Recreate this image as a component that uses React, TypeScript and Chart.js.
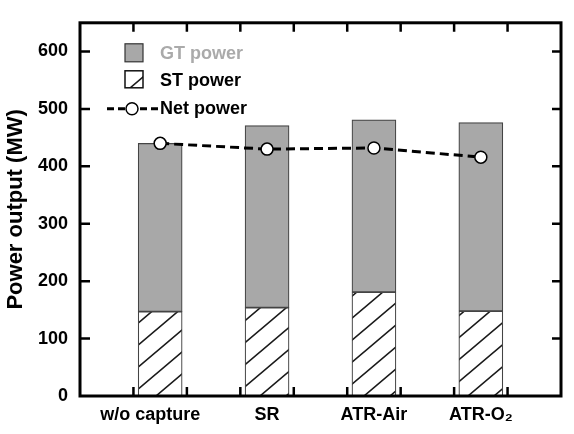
import React, { useEffect, useRef } from "react";
import { Chart, registerables } from "chart.js";

Chart.register(...registerables);

const categories = ["w/o capture", "SR", "ATR-Air", "ATR-O\u2082"];
const stPower = [147, 154, 181, 148];
const gtPower = [293, 317, 300, 328];
const netPower = [440, 430, 432, 416];
const yTickValues = [0, 100, 200, 300, 400, 500, 600];
const legendLabels = ["GT power", "ST power", "Net power"];

const FONT = "'Liberation Sans', Arial, sans-serif";

function makeHatch(): CanvasPattern | string {
  const w = 26, h = 22;
  const c = document.createElement("canvas");
  c.width = w; c.height = h;
  const g = c.getContext("2d");
  if (!g) return "#fff";
  g.fillStyle = "#ffffff";
  g.fillRect(0, 0, w, h);
  g.strokeStyle = "#1a1a1a";
  g.lineWidth = 1.6;
  g.beginPath();
  g.moveTo(-w, 2 * h); g.lineTo(2 * w, -h);
  g.moveTo(-2 * w, 2 * h); g.lineTo(w, -h);
  g.moveTo(0, 2 * h); g.lineTo(3 * w, -h);
  g.stroke();
  const p = g.createPattern(c, "repeat");
  return p || "#fff";
}

export default function App() {
  const ref = useRef<HTMLCanvasElement | null>(null);
  useEffect(() => {
    if (!ref.current) return;
    const hatch = makeHatch();

    const frame = {
      id: "frame",
      afterDatasetsDraw(chart: any) {
        const { ctx, chartArea } = chart;
        const { left, right, top, bottom } = chartArea;
        const xs = chart.scales.x;
        const ys = chart.scales.y;
        ctx.save();
        ctx.strokeStyle = "#000";
        ctx.lineWidth = 3;
        ctx.strokeRect(left, top, right - left, bottom - top);
        ctx.lineWidth = 2.5;
        ctx.beginPath();
        yTickValues.forEach((v) => {
          const y = ys.getPixelForValue(v);
          if (v === 0) return;
          ctx.moveTo(left, y); ctx.lineTo(left + 10, y);
          ctx.moveTo(right, y); ctx.lineTo(right - 9, y);
        });
        categories.forEach((_, i) => {
          [i - 0.25, i + 0.25].forEach((xv) => {
            const x = xs.getPixelForValue(xv);
            ctx.moveTo(x, bottom); ctx.lineTo(x, bottom - 9);
            ctx.moveTo(x, top); ctx.lineTo(x, top + 9);
          });
        });
        ctx.stroke();

        // legend
        const lx = left + 45;
        const ds = chart.data.datasets;
        ctx.font = `bold 18px ${FONT}`;
        ctx.textBaseline = "middle";
        ctx.textAlign = "left";
        // GT
        ctx.fillStyle = ds[1].backgroundColor;
        ctx.fillRect(lx, top + 21, 18, 18);
        ctx.lineWidth = 1.2;
        ctx.strokeStyle = "#333";
        ctx.strokeRect(lx, top + 21, 18, 18);
        ctx.fillStyle = "#aaaaaa";
        ctx.fillText(legendLabels[0], left + 80, top + 31);
        // ST
        ctx.fillStyle = ds[0].backgroundColor;
        ctx.fillRect(lx, top + 48, 18, 17);
        ctx.lineWidth = 1.5;
        ctx.strokeStyle = "#111";
        ctx.strokeRect(lx, top + 48, 18, 17);
        ctx.fillStyle = "#000";
        ctx.fillText(legendLabels[1], left + 80, top + 58);
        // Net
        const ny = top + 86;
        ctx.strokeStyle = "#000";
        ctx.lineWidth = 3;
        ctx.setLineDash([7, 4]);
        ctx.beginPath();
        ctx.moveTo(left + 27, ny); ctx.lineTo(left + 79, ny);
        ctx.stroke();
        ctx.setLineDash([]);
        ctx.beginPath();
        ctx.arc(left + 52, ny, 6, 0, Math.PI * 2);
        ctx.fillStyle = "#fff";
        ctx.fill();
        ctx.lineWidth = 1.5;
        ctx.stroke();
        ctx.fillStyle = "#000";
        ctx.fillText(legendLabels[2], left + 80, ny);
        ctx.restore();
      },
    };

    const chart = new Chart(ref.current, {
      type: "bar",
      data: {
        datasets: [
          {
            type: "bar",
            label: "ST power",
            data: stPower.map((v, i) => ({ x: i, y: v })),
            backgroundColor: hatch as any,
            borderColor: "#444",
            borderWidth: 1.2,
            borderSkipped: false,
            barThickness: 44,
            stack: "power",
            order: 2,
          },
          {
            type: "bar",
            label: "GT power",
            data: gtPower.map((v, i) => ({ x: i, y: v })),
            backgroundColor: "#a8a8a8",
            borderColor: "#444",
            borderWidth: 1.2,
            borderSkipped: false,
            barThickness: 44,
            stack: "power",
            order: 2,
          },
          {
            type: "line",
            label: "Net power",
            data: netPower.map((v, i) => ({ x: i, y: v })),
            borderColor: "#000",
            borderWidth: 3,
            borderDash: [9, 5],
            pointRadius: 6,
            pointBackgroundColor: "#fff",
            pointBorderColor: "#000",
            pointBorderWidth: 1.5,
            fill: false,
            tension: 0,
            stack: "net",
            order: 0,
          } as any,
        ],
      },
      options: {
        responsive: false,
        animation: false,
        layout: { padding: { top: 8, right: 13, left: 0, bottom: 0 } },
        plugins: { legend: { display: false }, tooltip: { enabled: false } },
        scales: {
          x: {
            type: "linear",
            min: -0.75,
            max: 3.75,
            offset: false,
            stacked: true,
            grid: { display: false, drawTicks: false, offset: false },
            border: { display: false },
            afterBuildTicks: (s: any) => {
              s.ticks = categories.map((_, i) => ({ value: i }));
            },
            afterFit: (s: any) => { s.height = 38; },
            ticks: {
              padding: 8,
              autoSkip: false,
              maxRotation: 0,
              color: "#000",
              font: { family: FONT, size: 18, weight: "bold" },
              callback: (v: any) => {
                const i = Math.round(Number(v));
                const t = categories[i] ?? "";
                return i === 0 ? t + "    " : t;
              },
            },
          },
          y: {
            type: "linear",
            min: 0,
            max: 650,
            stacked: true,
            grid: { display: false, drawTicks: false },
            border: { display: false },
            afterBuildTicks: (s: any) => {
              s.ticks = yTickValues.map((v) => ({ value: v }));
            },
            afterFit: (s: any) => { s.width = 80; },
            ticks: {
              padding: 12,
              color: "#000",
              font: { family: FONT, size: 18, weight: "bold" },
            },
            title: {
              display: true,
              text: "Power output (MW)",
              color: "#000",
              padding: { top: 3, bottom: 0 },
              font: { family: FONT, size: 22, weight: "bold" },
            },
          },
        },
      },
      plugins: [frame],
    });
    return () => chart.destroy();
  }, []);

  return (
    <div style={{ position: "absolute", left: 0, top: 0, width: 574, height: 434, background: "#fff" }}>
      <canvas ref={ref} width={574} height={434} style={{ display: "block" }} />
    </div>
  );
}
